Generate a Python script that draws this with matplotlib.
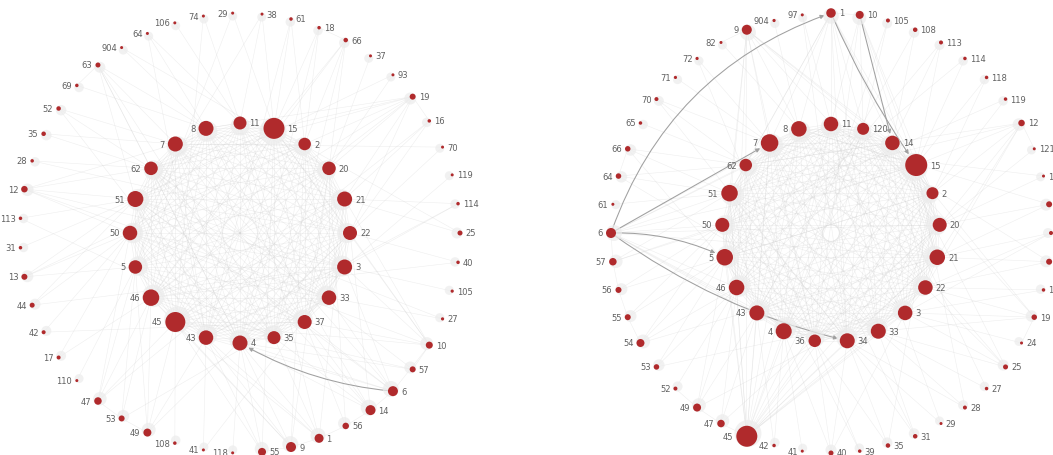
import itertools
import numpy as np
import matplotlib
matplotlib.use("Agg")
import matplotlib.pyplot as plt
from matplotlib.collections import LineCollection
from matplotlib.patches import FancyArrowPatch

# ---------------- data ----------------
# Left network: inner ring (clockwise from top) and outer ring (clockwise from east)
left_inner = ["11", "15", "2", "20", "21", "22", "3", "33", "37", "35",
              "4", "43", "45", "46", "5", "50", "51", "62", "7", "8"]
left_inner_size = [13, 21, 12.5, 13.5, 15, 14, 15, 14.5, 14, 13,
                   15, 14.5, 20, 16.5, 13.5, 14.5, 16, 13.5, 15, 15]
left_outer = ["25", "40", "105", "27", "10", "57", "6", "14", "56", "1",
              "9", "55", "118", "41", "108", "49", "53", "47", "110", "17",
              "42", "44", "13", "31", "113", "12", "28", "35", "52", "69",
              "63", "904", "64", "106", "74", "29", "38", "61", "18", "66",
              "37", "93", "19", "16", "70", "119", "114"]
left_outer_size = [5, 3.5, 3.2, 3.2, 7, 6, 10, 10, 6.5, 9,
                   10, 8, 3, 3, 3.5, 8, 6, 7.5, 3, 4,
                   4, 5, 6, 3.5, 3.5, 6.5, 3.5, 4.5, 4.5, 3.5,
                   5, 3, 3, 3, 3, 3, 3, 3.5, 3.5, 4.5,
                   3, 3, 6, 3.5, 3, 3, 3.5]
left_links = {
    "25": ["15", "21"], "40": ["22", "46"], "105": ["3"], "27": ["33", "51"],
    "10": ["37", "3", "22", "21", "15", "45", "50"], "57": ["35", "4", "62"],
    "6": ["4", "43", "37", "33", "3", "51", "7"], "14": ["35", "4", "37", "22", "8", "62"],
    "56": ["37", "20"], "1": ["4", "43", "35", "45", "21", "11"],
    "9": ["4", "43", "45", "46", "20", "2"], "55": ["45", "43", "4", "15"],
    "118": ["4"], "41": ["43", "3"], "108": ["45"], "49": ["45", "46", "5", "43", "22"],
    "53": ["46", "5", "33"], "47": ["46", "5", "50", "45", "21"], "110": ["5"],
    "17": ["50", "46"], "42": ["50", "37"], "44": ["50", "51", "3"],
    "13": ["50", "51", "5", "2"], "31": ["51"], "113": ["51", "35"],
    "12": ["51", "62", "7", "50", "3", "33"], "28": ["62", "22"], "35": ["62", "7"],
    "52": ["7", "62", "4"], "69": ["8"], "63": ["7", "8", "62", "51", "4", "35"],
    "904": ["8", "20"], "64": ["8", "11", "43"], "106": ["11"], "74": ["11", "45"],
    "29": ["15", "5"], "38": ["15", "11", "50"], "61": ["15", "2", "43"],
    "18": ["2", "15", "4"], "66": ["2", "20", "15", "46", "35"], "37": ["20"],
    "93": ["20", "51"], "19": ["21", "20", "2", "15", "22", "46", "5", "8", "62"],
    "16": ["21", "22", "45"], "70": ["22", "7"], "119": ["3"], "114": ["3", "21", "43"],
}
left_rim_links = [("6", "14"), ("14", "56"), ("56", "1"), ("1", "9"), ("9", "55"),
                  ("57", "10"), ("10", "6"), ("49", "53"), ("53", "47"), ("63", "69"),
                  ("19", "16"), ("66", "18")]
left_focus = [("6", "4")]

# Right network
right_inner = ["11", "120", "14", "15", "2", "20", "21", "22", "3", "33", "34",
               "36", "4", "43", "46", "5", "50", "51", "62", "7", "8"]
right_inner_size = [14.5, 12, 14.5, 22, 12, 14, 15.5, 14.5, 14.5, 15, 15,
                    12.5, 16, 15, 15.5, 16.5, 14, 16.5, 12.5, 17.5, 15.5]
right_outer = ["1", "10", "105", "108", "113", "114", "118", "119", "12", "121",
               "13", "14", "16", "17", "18", "19", "24", "25", "27", "28",
               "29", "31", "35", "39", "40", "41", "42", "45", "47", "49",
               "52", "53", "54", "55", "56", "57", "6", "61", "64", "66",
               "65", "70", "71", "72", "82", "9", "904", "97"]
right_outer_size = [9.5, 8, 4, 4.5, 4, 3.5, 3.5, 3.5, 6.5, 3,
                    3, 6, 4, 6, 3.5, 5.5, 3, 5, 3.5, 4,
                    3, 4.5, 4.5, 3.5, 5, 3, 3.5, 21, 7.5, 8,
                    4, 5.5, 8, 6, 6, 7.5, 10, 3, 5.5, 5.5,
                    3.5, 4, 3.2, 3.2, 3, 10, 3.2, 3]
right_links = {
    "1": ["11", "8", "7", "14", "120", "62", "51", "20", "2", "34", "33"],
    "10": ["15", "11", "120", "2", "21", "36"], "105": ["120", "4"], "108": ["14", "43"],
    "113": ["14", "15", "46"], "114": ["15", "5"], "118": ["15", "2"], "119": ["2", "50"],
    "12": ["2", "20", "21", "15", "22", "51", "62"], "121": ["20"], "13": ["20", "7"],
    "14": ["21", "20", "8"], "16": ["21", "22", "3"], "17": ["22", "21", "11"],
    "18": ["22", "3"], "19": ["3", "22", "33", "120", "14"], "24": ["3"],
    "25": ["33", "3", "22", "14", "8"], "27": ["33", "120"], "28": ["33", "34", "15"],
    "29": ["34", "11"], "31": ["34", "33", "7"], "35": ["34", "36", "2"],
    "39": ["36", "51"], "40": ["36", "34", "4", "3"], "41": ["4"], "42": ["4", "43"],
    "45": ["4", "43", "36", "34", "46", "5", "33", "3", "22", "21", "50", "51", "15",
           "20", "2", "14", "120", "11", "8", "7", "62"],
    "47": ["43", "46", "20"], "49": ["46", "43", "5", "22"], "52": ["46"],
    "53": ["5", "46", "3"], "54": ["5", "50", "46", "21"], "55": ["50", "5"],
    "56": ["50", "2"], "57": ["50", "51", "15"],
    "6": ["51", "62", "50", "46", "8", "11", "20", "21", "15", "43", "4", "36"],
    "61": ["51"], "64": ["51", "62", "33"], "66": ["62", "51", "4"], "65": ["62"],
    "70": ["7", "62", "34"], "71": ["7"], "72": ["7", "36"], "82": ["8"],
    "9": ["8", "7", "11", "120", "14", "62", "51", "15", "5", "46", "36"],
    "904": ["8"], "97": ["11", "34"],
}
right_rim_links = [("45", "47"), ("47", "49"), ("49", "52"), ("54", "55"), ("55", "56"),
                   ("56", "57"), ("57", "6"), ("12", "121"), ("1", "10"), ("19", "24"),
                   ("9", "82"), ("64", "66")]
right_focus = [("6", "1"), ("6", "5"), ("6", "34"), ("6", "7"), ("1", "15"), ("10", "14")]

# ---------------- styling ----------------
NODE_COLOR = "#b02a2c"
EDGE_COLOR = "#cccccc"
HALO_COLOR = "#ececec"
LABEL_COLOR = "#606060"
W, H = 1053, 456

fig = plt.figure(figsize=(W / 100, H / 100), dpi=100)
ax = fig.add_axes([0, 0, 1, 1])
ax.set_xlim(0, W)
ax.set_ylim(H, 0)
ax.axis("off")

PX2PT = 72 / 100


def ring(n, cx, cy, r, start_deg):
    ang = np.deg2rad(start_deg - np.arange(n) * 360.0 / n)
    return np.column_stack([cx + r * np.cos(ang), cy - r * np.sin(ang)])


def draw_network(cx, cy, r_in, r_out, inner, inner_size, outer, outer_size,
                 outer_start, links, rim_links, focus, focus_rad):
    p_in = ring(len(inner), cx, cy, r_in, 90)
    p_out = ring(len(outer), cx, cy, r_out, outer_start)
    pos_in = dict(zip(inner, p_in))
    pos_out = dict(zip(outer, p_out))
    size_in = dict(zip(inner, inner_size))
    size_out = dict(zip(outer, outer_size))

    segs = [[pos_in[a], pos_in[b]] for a, b in itertools.combinations(inner, 2)]
    for o, targets in links.items():
        for t in targets:
            segs.append([pos_out[o], pos_in[t]])
    for a, b in rim_links:
        segs.append([pos_out[a], pos_out[b]])
    ax.add_collection(LineCollection(segs, colors=EDGE_COLOR, linewidths=0.4,
                                     alpha=0.33, zorder=1))

    # highlighted links with arrow heads
    for (a, b), rad in zip(focus, focus_rad):
        pa = pos_out[a] if a in pos_out else pos_in[a]
        if b in pos_in:
            pb, db = pos_in[b], size_in[b]
        else:
            pb, db = pos_out[b], size_out[b]
        arr = FancyArrowPatch(pa, pb, arrowstyle="-|>", mutation_scale=6,
                              connectionstyle=f"arc3,rad={rad}", color="#a0a0a0",
                              lw=0.75, shrinkA=2, shrinkB=db / 2 * PX2PT + 1.5,
                              zorder=2)
        ax.add_patch(arr)

    all_pts = np.vstack([p_in, p_out])
    all_d = np.array(list(inner_size) + list(outer_size))
    names = list(inner) + list(outer)
    # soft halo of incoming arrow heads, nudged toward the center
    vec = np.array([cx, cy]) - all_pts
    vec /= np.linalg.norm(vec, axis=1, keepdims=True)
    halo = all_pts + vec * 3
    ax.scatter(halo[:, 0], halo[:, 1], s=((all_d + 6) * PX2PT) ** 2,
               color=HALO_COLOR, alpha=0.7, linewidths=0, zorder=2)
    ax.scatter(all_pts[:, 0], all_pts[:, 1], s=(all_d * PX2PT) ** 2,
               color=NODE_COLOR, linewidths=0, zorder=3)
    for (x, y), d, nm in zip(all_pts, all_d, names):
        if x < cx - 1:
            ax.text(x - d / 2 - 3, y, nm, ha="right", va="center",
                    fontsize=6, color=LABEL_COLOR, zorder=4)
        else:
            ax.text(x + d / 2 + 3, y, nm, ha="left", va="center",
                    fontsize=6, color=LABEL_COLOR, zorder=4)


draw_network(240, 234, 110, 220, left_inner, left_inner_size, left_outer,
             left_outer_size, 0, left_links, left_rim_links, left_focus, [-0.11])
draw_network(831, 234, 109, 220, right_inner, right_inner_size, right_outer,
             right_outer_size, 90, right_links, right_rim_links, right_focus,
             [-0.24, -0.12, 0.1, 0.0, 0.05, 0.0])

fig.savefig("out.png", dpi=100)
